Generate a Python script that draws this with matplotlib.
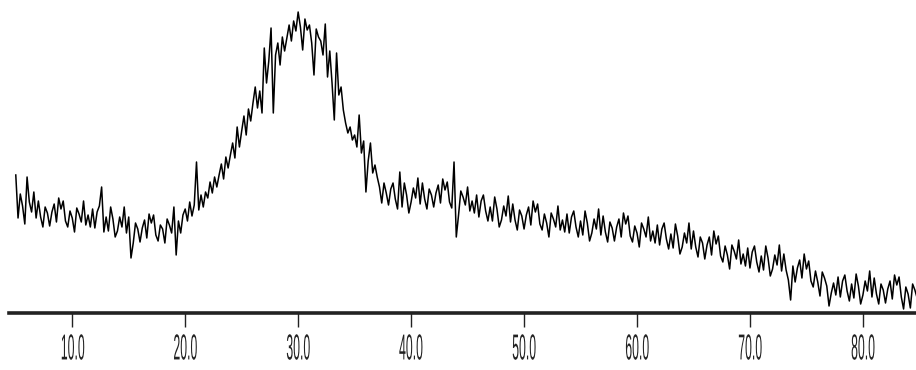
import numpy as np
import matplotlib
matplotlib.use("Agg")
import matplotlib.pyplot as plt
from matplotlib.patheffects import AbstractPathEffect
from matplotlib.transforms import Affine2D

# 2-theta scan, one row per degree (5.0 .. 84.8, step 0.2)
two_theta_start = 5.0
two_theta_step = 0.2
intensity = [
    138, 95, 119, 107, 89,    # 5
    136, 111, 101, 121, 95,
    112, 96, 86, 106, 100,
    87, 101, 109, 91, 115,
    104, 112, 92, 86, 102,
    95, 81, 105, 99, 91,      # 10
    112, 88, 98, 86, 104,
    85, 101, 107, 126, 81,
    96, 82, 106, 94, 76,
    82, 96, 86, 106, 80,
    96, 55, 70, 90, 84,       # 15
    71, 85, 93, 75, 99,
    90, 98, 78, 72, 88,
    84, 70, 94, 88, 80,
    106, 58, 92, 80, 98,
    104, 92, 111, 97, 108,    # 20
    151, 103, 118, 106, 121,
    115, 131, 120, 136, 126,
    138, 149, 134, 156, 145,
    158, 170, 155, 186, 166,
    182, 197, 178, 204, 192,  # 25
    210, 226, 205, 222, 200,
    265, 230, 252, 285, 200,
    258, 270, 248, 276, 262,
    275, 288, 272, 292, 282,
    301, 286, 263, 294, 283,  # 30
    288, 270, 238, 284, 276,
    272, 258, 289, 236, 262,
    230, 193, 260, 218, 226,
    203, 190, 180, 186, 173,
    178, 166, 198, 160, 172,  # 35
    121, 152, 170, 140, 148,
    136, 126, 110, 130, 120,
    108, 124, 130, 114, 104,
    141, 106, 130, 118, 100,
    111, 125, 115, 135, 109,  # 40
    130, 114, 104, 124, 118,
    106, 120, 128, 110, 134,
    123, 131, 111, 105, 151,
    76, 98, 122, 116, 108,
    126, 102, 112, 100, 118,  # 45
    96, 112, 118, 102, 92,
    106, 92, 116, 104, 86,
    93, 107, 97, 117, 91,
    109, 93, 83, 103, 97,
    84, 98, 106, 88, 112,     # 50
    101, 109, 89, 83, 99,
    90, 76, 100, 94, 86,
    107, 83, 93, 81, 99,
    80, 96, 102, 86, 76,
    92, 78, 102, 90, 72,      # 55
    80, 94, 84, 104, 78,
    97, 81, 71, 91, 85,
    72, 86, 94, 76, 100,
    89, 97, 77, 71, 87,
    80, 66, 90, 84, 76,       # 60
    96, 72, 82, 70, 88,
    68, 84, 90, 74, 64,
    79, 65, 89, 77, 59,
    66, 80, 70, 90, 64,
    82, 66, 56, 76, 70,       # 65
    54, 68, 76, 58, 82,
    69, 77, 57, 51, 67,
    58, 44, 68, 62, 54,
    73, 49, 59, 47, 65,
    45, 61, 67, 51, 41,       # 70
    57, 43, 67, 55, 37,
    44, 58, 48, 68, 42,
    59, 43, 33, 13, 47,
    31, 45, 53, 35, 59,
    44, 52, 32, 26, 42,       # 75
    31, 17, 41, 35, 27,
    7, 20, 30, 18, 36,
    16, 32, 38, 22, 12,
    29, 15, 39, 27, 9,
    18, 32, 22, 42, 16,       # 80
    35, 19, 9, 29, 23,
    10, 24, 32, 14, 38,
    28, 36, 16, 4, 26,
    19, 5, 29, 23, 15,
]
tick_values = [10, 20, 30, 40, 50, 60, 70, 80]
tick_labels = ["10.0", "20.0", "30.0", "40.0", "50.0", "60.0", "70.0", "80.0"]

two_theta = two_theta_start + two_theta_step * np.arange(len(intensity))


# squeeze text horizontally (the original labels are very narrow)
class Squeeze(AbstractPathEffect):
    def __init__(self, sx):
        super().__init__()
        self.sx = sx

    def draw_path(self, renderer, gc, tpath, affine, rgbFace=None):
        ext = tpath.get_extents()
        cx = (ext.x0 + ext.x1) / 2
        sq = Affine2D().translate(-cx, 0).scale(self.sx, 1).translate(cx, 0)
        renderer.draw_path(gc, tpath, sq + affine, rgbFace)


fig = plt.figure(figsize=(9.16, 3.70), dpi=100)
ax = fig.add_axes([9 / 916, 57 / 370, 907 / 916, 313 / 370])

ax.plot(two_theta, intensity, color="black", linewidth=1.1)

ax.set_xlim(4.4, 84.7)
ax.set_ylim(0, 313)

for side in ["top", "left", "right"]:
    ax.spines[side].set_visible(False)
ax.spines["bottom"].set_linewidth(2.6)
ax.spines["bottom"].set_color("#222222")
ax.set_yticks([])

ax.set_xticks(tick_values, tick_labels)
ax.tick_params(axis="x", direction="out", length=10, width=1.0, color="#222222",
               labelsize=26, pad=4, labelcolor="#222222")
for lbl in ax.get_xticklabels():
    lbl.set_family("Liberation Sans")
    lbl.set_path_effects([Squeeze(0.34)])

fig.savefig("out.png", dpi=100)
